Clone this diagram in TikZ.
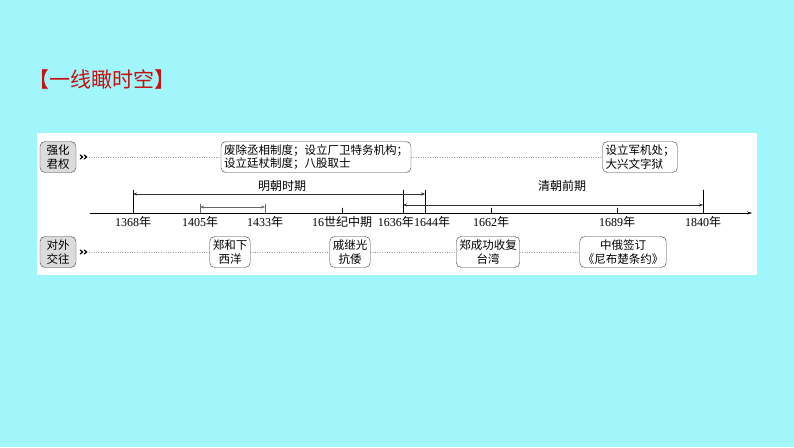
\documentclass[tikz,border=0pt]{standalone}
\usepackage{fontspec}
\setmainfont{Liberation Serif}
\newfontfamily\cjk{Noto Sans CJK SC}
\usetikzlibrary{arrows.meta}
\newcommand{\nian}[1]{#1{\cjk 年}}
\begin{document}
\begin{tikzpicture}[x=1pt, y=-1pt, line cap=round, line join=round,
  evbox/.style={draw=black!75, rounded corners=5pt, fill=white, align=center,
    font=\cjk\fontsize{11.5}{13.5}\selectfont, inner xsep=3pt, inner ysep=1pt, minimum height=31pt},
  catbox/.style={evbox, fill=black!14, minimum width=36pt, inner xsep=1pt},
  guide/.style={dotted, black!55},
  yrlabel/.style={font=\fontsize{12}{14}\selectfont, inner sep=0pt},
  span/.style={{Stealth[length=4pt,width=3pt]}-{Stealth[length=4pt,width=3pt]}, black!80}]
  \definecolor{bgcyan}{RGB}{160,246,250}
  \definecolor{titlered}{RGB}{200,16,16}
  \useasboundingbox[fill=bgcyan] (0,0) rectangle (794,447);
  \fill[white] (37,133) rectangle (757,275);
  \node[anchor=west, text=titlered, font=\cjk\fontsize{21}{24}\selectfont, inner sep=0pt] (title) at (28,80) {【一线瞰时空】};

  % category boxes and chevrons
  \node[catbox] (jq) at (58,157) {强化\\君权};
  \node[catbox] (dw) at (58,252) {对外\\交往};
  \foreach \r in {jq,dw} {
    \foreach \s in {4,8}
      \draw[line width=1.2pt] ([xshift=\s pt,yshift=2pt]\r.east) -- ++(2.5,2) -- ++(-2.5,2);
    \coordinate (\r s) at ([xshift=13pt]\r.east);
  }

  % upper row
  \node[evbox, align=left] (zd) at (316,157) {废除丞相制度；设立厂卫特务机构；\\设立廷杖制度；八股取士};
  \node[evbox, align=left] (jjc) at (640,157) {设立军机处；\\大兴文字狱};
  \draw[guide] (jqs) -- (zd.west);
  \draw[guide] (zd.east) -- (jjc.west);

  % lower row
  \node[evbox] (zh) at (230,252) {郑和下\\西洋};
  \node[evbox] (qjg) at (350,252) {戚继光\\抗倭};
  \node[evbox] (zcg) at (488,252) {郑成功收复\\台湾};
  \node[evbox] (nbc) at (623,252) {中俄签订\\《尼布楚条约》};
  \draw[guide] (dws) -- (zh.west);
  \draw[guide] (zh.east) -- (qjg.west);
  \draw[guide] (qjg.east) -- (zcg.west);
  \draw[guide] (zcg.east) -- (nbc.west);

  % time axis
  \coordinate (a0) at (90,213);
  \coordinate (a1) at (752,213);
  \draw[-{Stealth[length=5pt,width=3pt]}] (a0) -- (a1);
  \foreach \x/\n in {133/t1368, 200/t1405, 265/t1433, 342/t16c, 403/t1636, 425/t1644, 491/t1662, 617/t1689, 703/t1840}
    \coordinate (\n) at (\x,213);
  \foreach \n in {t1368,t1636,t1644,t1840}
    \draw (\n) -- ++(0,-23);
  \foreach \n in {t16c,t1662,t1689}
    \draw (\n) -- ++(0,-5);
  \foreach \n in {t1405,t1433}
    \draw[black!60, thick] (\n) -- ++(0,-9);

  % periods
  \draw[span] ([yshift=19pt]t1368) -- ([yshift=19pt]t1644);
  \draw[span] ([yshift=8pt]t1636) -- ([yshift=8pt]t1840);
  \draw[span, black!60, thick] ([yshift=6pt]t1405) -- ([yshift=6pt]t1433);
  \node[font=\cjk\fontsize{12}{14}\selectfont] (ming) at (282,186) {明朝时期};
  \node[font=\cjk\fontsize{12}{14}\selectfont] (qing) at (562,186) {清朝前期};

  % year labels
  \foreach \n/\t in {t1368/\nian{1368}, t1405/\nian{1405}, t1433/\nian{1433}, t1662/\nian{1662}, t1689/\nian{1689}, t1840/\nian{1840}}
    \node[yrlabel, anchor=north] at ([yshift=-3pt]\n) {\t};
  \node[yrlabel, anchor=north] (c16) at ([yshift=-3pt]t16c) {16{\cjk 世纪中期}};
  \node[yrlabel, anchor=north east] (l1636) at (414,216) {\nian{1636}};
  \node[yrlabel, anchor=north west] (l1644) at (414,216) {\nian{1644}};
\end{tikzpicture}
\end{document}
